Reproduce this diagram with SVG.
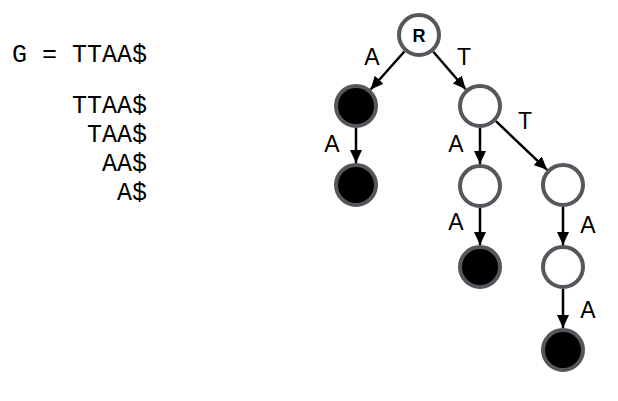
<svg xmlns="http://www.w3.org/2000/svg" width="618" height="401" viewBox="0 0 618 401">
  <style>
    .mono { font-family: "Liberation Mono", "DejaVu Sans Mono", monospace; font-size: 25px; fill: #000; }
    .lbl { font-family: "Liberation Sans", Arial, sans-serif; font-size: 23px; fill: #000; text-anchor: middle; }
    .root-lbl { font-family: "Liberation Sans", Arial, sans-serif; font-size: 18px; font-weight: bold; fill: #000; text-anchor: middle; }
    .node-open { fill: #ffffff; stroke: #54585d; stroke-width: 4; }
    .node-end { fill: #000000; stroke: #54585d; stroke-width: 4; }
    .edge { stroke: #000; stroke-width: 2.5; fill: none; marker-end: url(#arrow); }
  </style>
  <defs>
    <marker id="arrow" markerUnits="userSpaceOnUse" markerWidth="14" markerHeight="12" refX="13" refY="6" orient="auto">
      <path d="M0,0 L13,6 L0,12 z" fill="#000"/>
    </marker>
  </defs>
  <rect width="618" height="401" fill="#ffffff"/>

  <!-- string and its suffixes -->
  <g id="suffixes">
    <text class="mono" x="12" y="62">G = TTAA$</text>
    <text class="mono" x="147" y="113" text-anchor="end">TTAA$</text>
    <text class="mono" x="147" y="142" text-anchor="end">TAA$</text>
    <text class="mono" x="147" y="171" text-anchor="end">AA$</text>
    <text class="mono" x="147" y="200" text-anchor="end">A$</text>
  </g>

  <!-- trie edges -->
  <g id="edges">
    <line class="edge" x1="404.4" y1="51.5" x2="370.6" y2="89.5"/>
    <line class="edge" x1="433.3" y1="51.7" x2="465.7" y2="89.3"/>
    <line class="edge" x1="356" y1="128" x2="356" y2="163"/>
    <line class="edge" x1="480" y1="128" x2="480" y2="164"/>
    <line class="edge" x1="495.9" y1="121.2" x2="547.1" y2="169.8"/>
    <line class="edge" x1="480" y1="208" x2="480" y2="245"/>
    <line class="edge" x1="563" y1="207" x2="563" y2="245"/>
    <line class="edge" x1="563" y1="289" x2="563" y2="328"/>
  </g>

  <!-- edge labels -->
  <g id="edge-labels">
    <text class="lbl" x="372" y="65">A</text>
    <text class="lbl" x="464" y="65">T</text>
    <text class="lbl" x="332" y="152">A</text>
    <text class="lbl" x="456" y="152">A</text>
    <text class="lbl" x="525" y="129">T</text>
    <text class="lbl" x="456" y="230">A</text>
    <text class="lbl" x="588" y="233">A</text>
    <text class="lbl" x="588" y="318">A</text>
  </g>

  <!-- trie nodes -->
  <g id="node-root">
    <circle class="node-open" cx="419" cy="35" r="20"/>
    <text class="root-lbl" x="419" y="42">R</text>
  </g>
  <g id="node-a"><circle class="node-end" cx="356" cy="106" r="20"/></g>
  <g id="node-t"><circle class="node-open" cx="480" cy="106" r="20"/></g>
  <g id="node-aa"><circle class="node-end" cx="356" cy="185" r="20"/></g>
  <g id="node-ta"><circle class="node-open" cx="480" cy="186" r="20"/></g>
  <g id="node-tt"><circle class="node-open" cx="563" cy="185" r="20"/></g>
  <g id="node-taa"><circle class="node-end" cx="480" cy="267" r="20"/></g>
  <g id="node-tta"><circle class="node-open" cx="563" cy="267" r="20"/></g>
  <g id="node-ttaa"><circle class="node-end" cx="563" cy="350" r="20"/></g>
</svg>
